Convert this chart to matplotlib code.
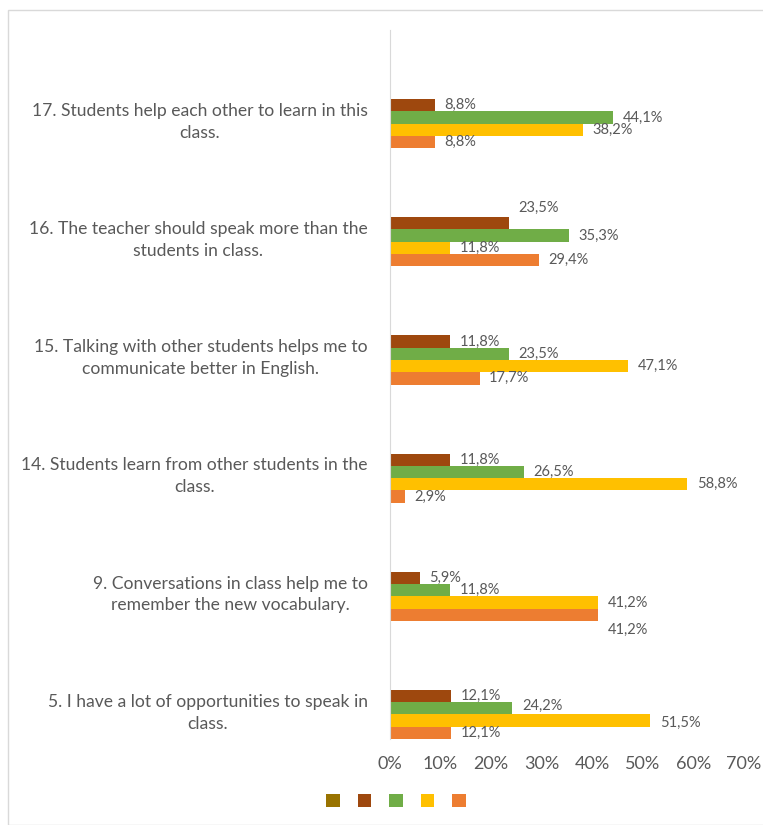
import numpy as np
import matplotlib.pyplot as plt
from matplotlib.patches import Patch, Rectangle

# survey items, bottom to top
items = [
    "5. I have a lot of opportunities to speak in\nclass.",
    "9. Conversations in class help me to\nremember the new vocabulary.",
    "14. Students learn from other students in the\nclass.",
    "15. Talking with other students helps me to\ncommunicate better in English.",
    "16. The teacher should speak more than the\nstudents in class.",
    "17. Students help each other to learn in this\nclass.",
]

# answer shares in percent (first series has no answers)
s_olive = [np.nan] * 6
s_brown = [12.1, 5.9, 11.8, 11.8, 23.5, 8.8]
s_green = [24.2, 11.8, 26.5, 23.5, 35.3, 44.1]
s_yellow = [51.5, 41.2, 58.8, 47.1, 11.8, 38.2]
s_orange = [12.1, 41.2, 2.9, 17.7, 29.4, 8.8]

series = [s_olive, s_brown, s_green, s_yellow, s_orange]
colors = ["#997300", "#9E480E", "#70AD47", "#FFC000", "#ED7D31"]

# vertical shifts (points) for labels that would collide
label_shift = {(1, 4): 11, (4, 1): -11, (3, 0): -2, (2, 0): 2}

TXT = "#595959"
FONT = "Lato"

fig = plt.figure(figsize=(7.63, 8.25), dpi=100)
fig.patches.append(Rectangle((8 / 763, 0), 1, 1 - 10 / 825, transform=fig.transFigure,
                             fill=False, edgecolor="#D9D9D9", lw=1))
ax = fig.add_axes([390 / 763, 1 - 739 / 825, 354 / 763, 709 / 825])

slot = 0.104
idx = np.arange(len(items))
# stack slots upward from the bottom of each category: orange lowest, olive highest
for k, (vals, col) in enumerate(zip(series, colors)):
    pos = len(series) - 1 - k
    y = idx - 0.5 + slot * (pos + 0.5)
    ax.barh(y, vals, height=slot, color=col)
    for i, (yy, v) in enumerate(zip(y, vals)):
        if np.isnan(v):
            continue
        dy = label_shift.get((k, i), 0)
        ax.annotate(f"{v:.1f}%".replace(".", ","), (v, yy), xytext=(7, dy),
                    textcoords="offset points", va="center", ha="left",
                    fontsize=10.5, color=TXT, family=FONT)

ax.set_xlim(0, 70)
ax.set_ylim(-0.5, len(items) - 0.5)
ax.set_xticks(range(0, 71, 10))
ax.set_xticklabels([f"{t}%" for t in range(0, 71, 10)], fontsize=13, color=TXT, family=FONT)
ax.set_yticks(idx - 0.5 + slot * 2.5)
ax.set_yticklabels(items, fontsize=12.6, color=TXT, family=FONT, multialignment="center",
                   linespacing=1.45)
ax.tick_params(axis="both", length=0)
ax.tick_params(axis="x", pad=12)
ax.tick_params(axis="y", pad=16)
for side in ["top", "right", "bottom"]:
    ax.spines[side].set_visible(False)
ax.spines["left"].set_color("#D9D9D9")

handles = [Patch(facecolor=c) for c in colors]
fig.legend(handles, [""] * 5, loc="center", bbox_to_anchor=(396 / 763, 1 - 802 / 825),
           ncol=5, frameon=False, handlelength=0.75, handleheight=0.75,
           handletextpad=0, columnspacing=1.0, fontsize=13)

fig.savefig("out.png", dpi=100)
